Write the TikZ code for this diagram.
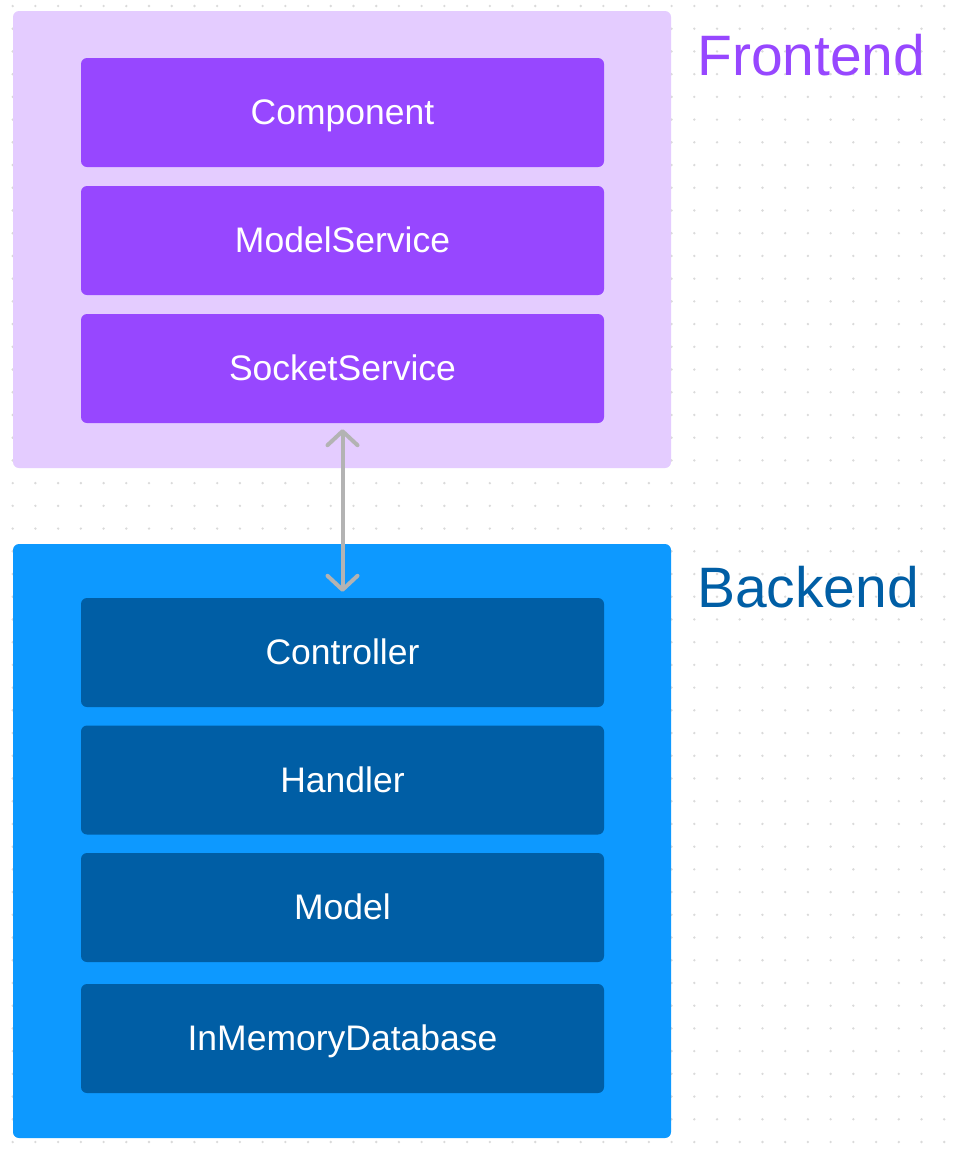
\documentclass[tikz,border=0pt]{standalone}
\usepackage{fontspec}
\setmainfont{Liberation Sans}
\usetikzlibrary{arrows.meta}
\definecolor{frontbg}{HTML}{E4CCFF}
\definecolor{frontin}{HTML}{9747FF}
\definecolor{backbg}{HTML}{0D99FF}
\definecolor{backin}{HTML}{005EA5}
\definecolor{dotc}{HTML}{DADADA}
\definecolor{arrowc}{HTML}{B3B3B3}
\tikzset{
  x=1pt,y=-1pt,
  group/.style={draw=none, rounded corners=6pt, minimum width=658pt, inner sep=0pt},
  layer/.style={draw=none, rounded corners=6pt, minimum width=523pt, minimum height=109pt,
    inner sep=0pt, text=white, text height=24.5pt, text depth=0pt,
    font=\fontsize{35.5}{40}\selectfont},
  title/.style={anchor=base west, inner sep=0pt, font=\fontsize{57}{64}\selectfont},
}
\begin{document}
\begin{tikzpicture}
\useasboundingbox (0,0) rectangle (954,1152);
\fill[white] (0,0) rectangle (954,1152);
% dotted grid
\foreach \i in {0,...,41} {
  \foreach \j in {0,...,50} {
    \fill[dotc] ({12.7+22.72*\i},{6+22.72*\j}) circle (1.3pt);
  }
}
% groups
\node[group, fill=frontbg, minimum height=457pt] (front) at (342,239.5) {};
\node[group, fill=backbg, minimum height=594pt] (back) at (342,841) {};
% frontend layers
\node[layer, fill=frontin] (comp) at (342.5,112.5) {Component};
\node[layer, fill=frontin] (ms) at (342.5,240.5) {ModelService};
\node[layer, fill=frontin] (ss) at (342.5,368.5) {SocketService};
% backend layers
\node[layer, fill=backin] (ctrl) at (342.5,652.5) {Controller};
\node[layer, fill=backin] (hand) at (342.5,780) {Handler};
\node[layer, fill=backin] (model) at (342.5,907.5) {Model};
\node[layer, fill=backin] (imdb) at (342.5,1038.5) {InMemoryDatabase};
% titles
\node[title, text=frontin] (ftitle) at (697,75) {Frontend};
\node[title, text=backin] (btitle) at (697,607) {Backend};
% connector
\draw[arrowc, line width=4pt, line cap=round,
  {Straight Barb[length=14pt,width=30pt,round]}-{Straight Barb[length=14pt,width=30pt,round]},
  shorten <=6pt, shorten >=6pt] (ss.south) -- (ctrl.north);
\end{tikzpicture}
\end{document}
